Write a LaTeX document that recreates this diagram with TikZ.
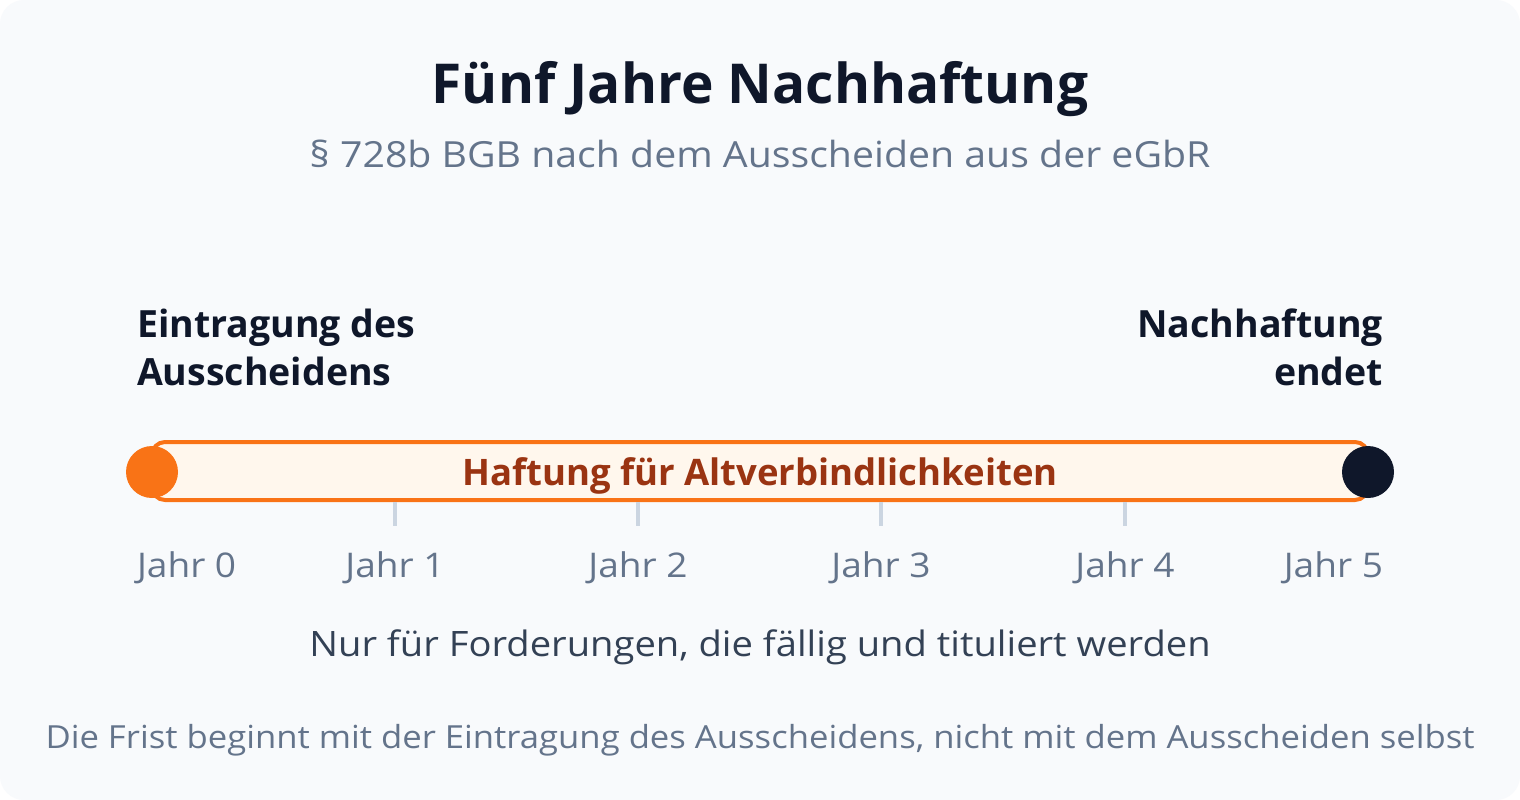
\documentclass[tikz,border=0pt]{standalone}
\usepackage{fontspec}
\setmainfont{Open Sans}
\newfontfamily\regf[FakeStretch=1.09]{Open Sans}
\definecolor{bg}{HTML}{F8FAFC}
\definecolor{ink}{HTML}{0F172A}
\definecolor{slate}{HTML}{64748B}
\definecolor{slatedark}{HTML}{334155}
\definecolor{orange}{HTML}{F97316}
\definecolor{orangebg}{HTML}{FFF7ED}
\definecolor{brown}{HTML}{9A3412}
\definecolor{tick}{HTML}{CBD5E1}
\begin{document}
\begin{tikzpicture}[x=1pt,y=-1pt,
  txt/.style={inner sep=0pt,outer sep=0pt},
  yearlbl/.style={txt,text=slate,font=\regf\fontsize{34}{40}\selectfont},
  sidelbl/.style={txt,text=ink,font=\fontsize{37.5}{44}\selectfont\bfseries},
  tickmark/.style={draw=tick,line width=3.5pt},
  dot/.style={circle,minimum size=52pt,inner sep=0pt}]
\useasboundingbox (0,0) rectangle (1520,800);
\fill[white] (0,0) rectangle (1520,800);
\fill[bg,rounded corners=24pt] (0,0) rectangle (1520,800);
% title
\node[txt,anchor=base,text=ink,font=\fontsize{55}{64}\selectfont\bfseries] (title) at (760,103) {Fünf Jahre Nachhaftung};
\node[txt,anchor=base,text=slate,font=\regf\fontsize{36}{44}\selectfont] (sub) at (760,167) {§ 728b BGB nach dem Ausscheiden aus der eGbR};
% side labels
\node[sidelbl,anchor=base west] (l1) at (137,337) {Eintragung des};
\node[sidelbl,anchor=base west] (l2) at (137,385) {Ausscheidens};
\node[sidelbl,anchor=base east] (r1) at (1383,337) {Nachhaftung};
\node[sidelbl,anchor=base east] (r2) at (1383,385) {endet};
% bar
\draw[draw=orange,fill=orangebg,line width=4pt,rounded corners=13pt] (152,442) rectangle (1368,500);
\node[txt,anchor=base,text=brown,font=\fontsize{36.5}{42}\selectfont\bfseries] (bar) at (760,485) {Haftung für Altverbindlichkeiten};
% dots
\node[dot,fill=orange] (start) at (152,472) {};
\node[dot,fill=ink] (end) at (1368,472) {};
% ticks
\foreach \x/\n in {395/1,638/2,881/3,1125/4}{
  \draw[tickmark] (\x,502) -- (\x,526);
  \node[yearlbl,anchor=base] (y\n) at (\x,577) {Jahr \n};
}
\node[yearlbl,anchor=base west] (y0) at (137,577) {Jahr 0};
\node[yearlbl,anchor=base east] (y5) at (1383,577) {Jahr 5};
% notes
\node[txt,anchor=base,text=slatedark,font=\regf\fontsize{35}{42}\selectfont] (note) at (760,656) {Nur für Forderungen, die fällig und tituliert werden};
\node[txt,anchor=base,text=slate,font=\regf\fontsize{31.8}{38}\selectfont] (foot) at (760,748) {Die Frist beginnt mit der Eintragung des Ausscheidens, nicht mit dem Ausscheiden selbst};
\end{tikzpicture}
\end{document}
